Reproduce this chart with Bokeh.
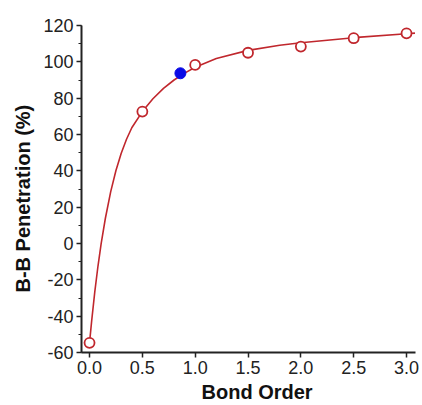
from bokeh.plotting import figure
from bokeh.models import Range1d, FixedTicker, SingleIntervalTicker, PrintfTickFormatter, Title
from bokeh.embed import file_html
from bokeh.resources import INLINE

# Data
bond_order = [0.0, 0.5, 1.0, 1.5, 2.0, 2.5, 3.0]
penetration = [-54.7, 72.6, 98.3, 105.0, 108.4, 113.0, 115.7]

highlight_order = [0.86]
highlight_penetration = [93.7]

fit_order = [0.00, 0.02, 0.05, 0.08, 0.11, 0.15, 0.20, 0.25, 0.30, 0.35, 0.40, 0.50,
             0.60, 0.70, 0.80, 0.90, 1.00, 1.20, 1.50, 1.80, 2.00, 2.50, 3.00, 3.08]
fit_penetration = [-54.7, -42.7, -26.5, -12.4, -0.1, 13.9, 28.4, 40.2, 49.7, 57.4, 63.7, 72.6,
                   79.7, 85.4, 90.0, 93.8, 97.0, 101.8, 106.3, 109.1, 110.5, 113.3, 115.5, 115.8]

x_ticks = [0.0, 0.5, 1.0, 1.5, 2.0, 2.5, 3.0]
x_title = "Bond Order"
y_title = "B-B Penetration (%)"

FONT = "Liberation Sans"
RED = "#C0272D"
AXIS = "#222222"

X0, X1 = -0.076, 3.085
Y0, Y1 = -60, 120

p = figure(width=422, height=405, output_backend="svg", toolbar_location=None,
           x_range=Range1d(X0, X1), y_range=Range1d(Y0, Y1),
           min_border_left=81, min_border_right=7, min_border_top=25, min_border_bottom=53)
p.outline_line_color = None
p.xgrid.visible = False
p.ygrid.visible = False
p.background_fill_color = "white"
p.border_fill_color = "white"

p.line(fit_order, fit_penetration, line_color=RED, line_width=1.6)
p.scatter(bond_order, penetration, size=10, marker="circle", fill_color="white",
          line_color=RED, line_width=1.8)
p.scatter(highlight_order, highlight_penetration, size=11, marker="circle",
          fill_color="#0A0AE6", line_color="#0A0AE6")

xa = p.xaxis[0]
xa.ticker = FixedTicker(ticks=x_ticks, minor_ticks=[])
xa.formatter = PrintfTickFormatter(format="%.1f")

ya = p.yaxis[0]
ya.ticker = SingleIntervalTicker(interval=20, num_minor_ticks=2)
ya.formatter = PrintfTickFormatter(format="%d")

for ax in (xa, ya):
    ax.axis_line_color = AXIS
    ax.axis_line_width = 2
    ax.major_tick_line_color = AXIS
    ax.major_tick_line_width = 1.5
    ax.minor_tick_line_color = AXIS
    ax.minor_tick_line_width = 1.2
    ax.major_tick_out = 5
    ax.major_tick_in = 0
    ax.minor_tick_out = 3
    ax.minor_tick_in = 0
    ax.major_label_text_font = FONT
    ax.major_label_text_font_size = "18px"
    ax.major_label_text_color = AXIS
    ax.major_label_standoff = 3

# axis titles as side titles so they can sit slightly off-centre like the reference
p.add_layout(Title(text=x_title, align="left", offset=120, standoff=5,
                   text_font=FONT, text_font_size="20px", text_font_style="bold",
                   text_color="#111111"), "below")
p.add_layout(Title(text=y_title, align="left", offset=60, standoff=14,
                   text_font=FONT, text_font_size="20px", text_font_style="bold",
                   text_color="#111111"), "left")

open("out.html", "w").write(file_html(p, INLINE))
